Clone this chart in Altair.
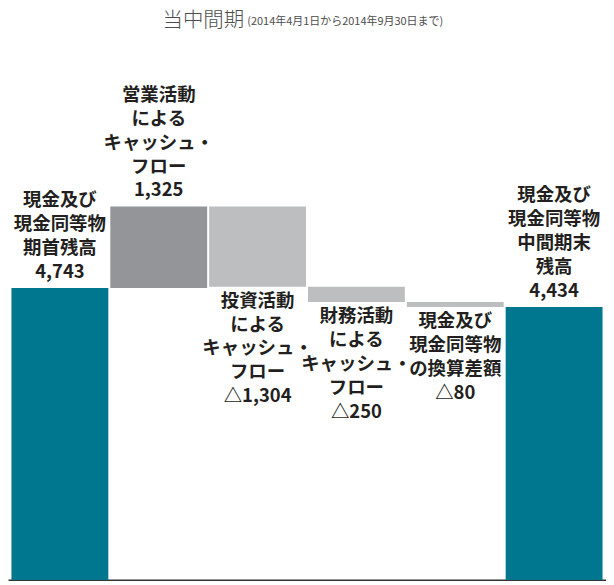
import altair as alt
import pandas as pd

# ---- data ----
categories = ["期首残高", "営業活動", "投資活動", "財務活動", "換算差額", "期末残高"]
values = [4743, 1325, -1304, -250, -80, 4434]
kinds = ["total", "up", "down", "down", "down", "total"]
labels = [
    "現金及び\n現金同等物\n期首残高\n4,743",
    "営業活動\nによる\nキャッシュ・\nフロー\n1,325",
    "投資活動\nによる\nキャッシュ・\nフロー\n△1,304",
    "財務活動\nによる\nキャッシュ・\nフロー\n△250",
    "現金及び\n現金同等物\nの換算差額\n△80",
    "現金及び\n現金同等物\n中間期末\n残高\n4,434",
]
title_main = "当中間期"
title_sub = "(2014年4月1日から2014年9月30日まで)"

# ---- waterfall table ----
starts, ends = [], []
running = 0
for k, v in zip(kinds, values):
    if k == "total":
        s, e = 0, v
        running = v
    else:
        s, e = running, running + v
        running = e
    starts.append(s)
    ends.append(e)

df = pd.DataFrame({
    "cat": categories,
    "kind": kinds,
    "start": starts,
    "end": ends,
    "label": labels,
})
df["top"] = df[["start", "end"]].max(axis=1)
df["bottom"] = df[["start", "end"]].min(axis=1)
df["pos"] = ["above" if v >= 0 else "below" for v in values]
df["nlines"] = [lab.count("\n") + 1 for lab in labels]

LH = 24
x_enc = alt.X("cat:N", sort=categories,
              scale=alt.Scale(paddingInner=0.02, paddingOuter=0.035),
              axis=alt.Axis(labels=False, ticks=False, title=None,
                            domainColor="#333333", domainWidth=2))
y_scale = alt.Scale(domain=[0, 9275], nice=False)

base = alt.Chart(df)

bars = base.mark_bar().encode(
    x=x_enc,
    y=alt.Y("start:Q", scale=y_scale, axis=None),
    y2="end:Q",
    color=alt.Color("kind:N",
                    scale=alt.Scale(domain=["total", "up", "down"],
                                    range=["#00778f", "#939598", "#bcbec0"]),
                    legend=None),
)

txt_props = dict(lineBreak="\n", lineHeight=LH, fontSize=18.5, fontWeight="bold",
                 font="Noto Sans CJK JP", color="#231f20", align="center")

layers = [bars]
for n in sorted(set(df.loc[df["pos"] == "above", "nlines"])):
    layers.append(
        base.transform_filter((alt.datum.pos == "above") & (alt.datum.nlines == n))
        .mark_text(baseline="bottom", dy=-6 - (n - 1) * LH, **txt_props)
        .encode(x=alt.X("cat:N", sort=categories),
                y=alt.Y("top:Q", scale=y_scale), text="label:N")
    )

layers.append(
    base.transform_filter(alt.datum.pos == "below").mark_text(
        baseline="top", dy=5, **txt_props
    ).encode(x=alt.X("cat:N", sort=categories),
             y=alt.Y("bottom:Q", scale=y_scale), text="label:N")
)

t1 = alt.Chart(pd.DataFrame({"t": [title_main]})).mark_text(
    align="right", baseline="middle", fontSize=20.5, font="Noto Sans CJK JP",
    fontWeight=300, color="#4d4d4d"
).encode(text="t:N", x=alt.value(237), y=alt.value(12))

t2 = alt.Chart(pd.DataFrame({"t": [title_sub]})).mark_text(
    align="left", baseline="middle", fontSize=11, font="Noto Sans CJK JP",
    color="#4d4d4d", dy=1
).encode(text="t:N", x=alt.value(240), y=alt.value(12))

layers += [t1, t2]

chart = alt.layer(*layers).properties(
    width=600, height=573,
    padding=0,
    autosize=alt.AutoSizeParams(type="none"),
).configure_view(stroke=None)

chart.save("out.html", embed_options={"renderer": "svg", "actions": False})
